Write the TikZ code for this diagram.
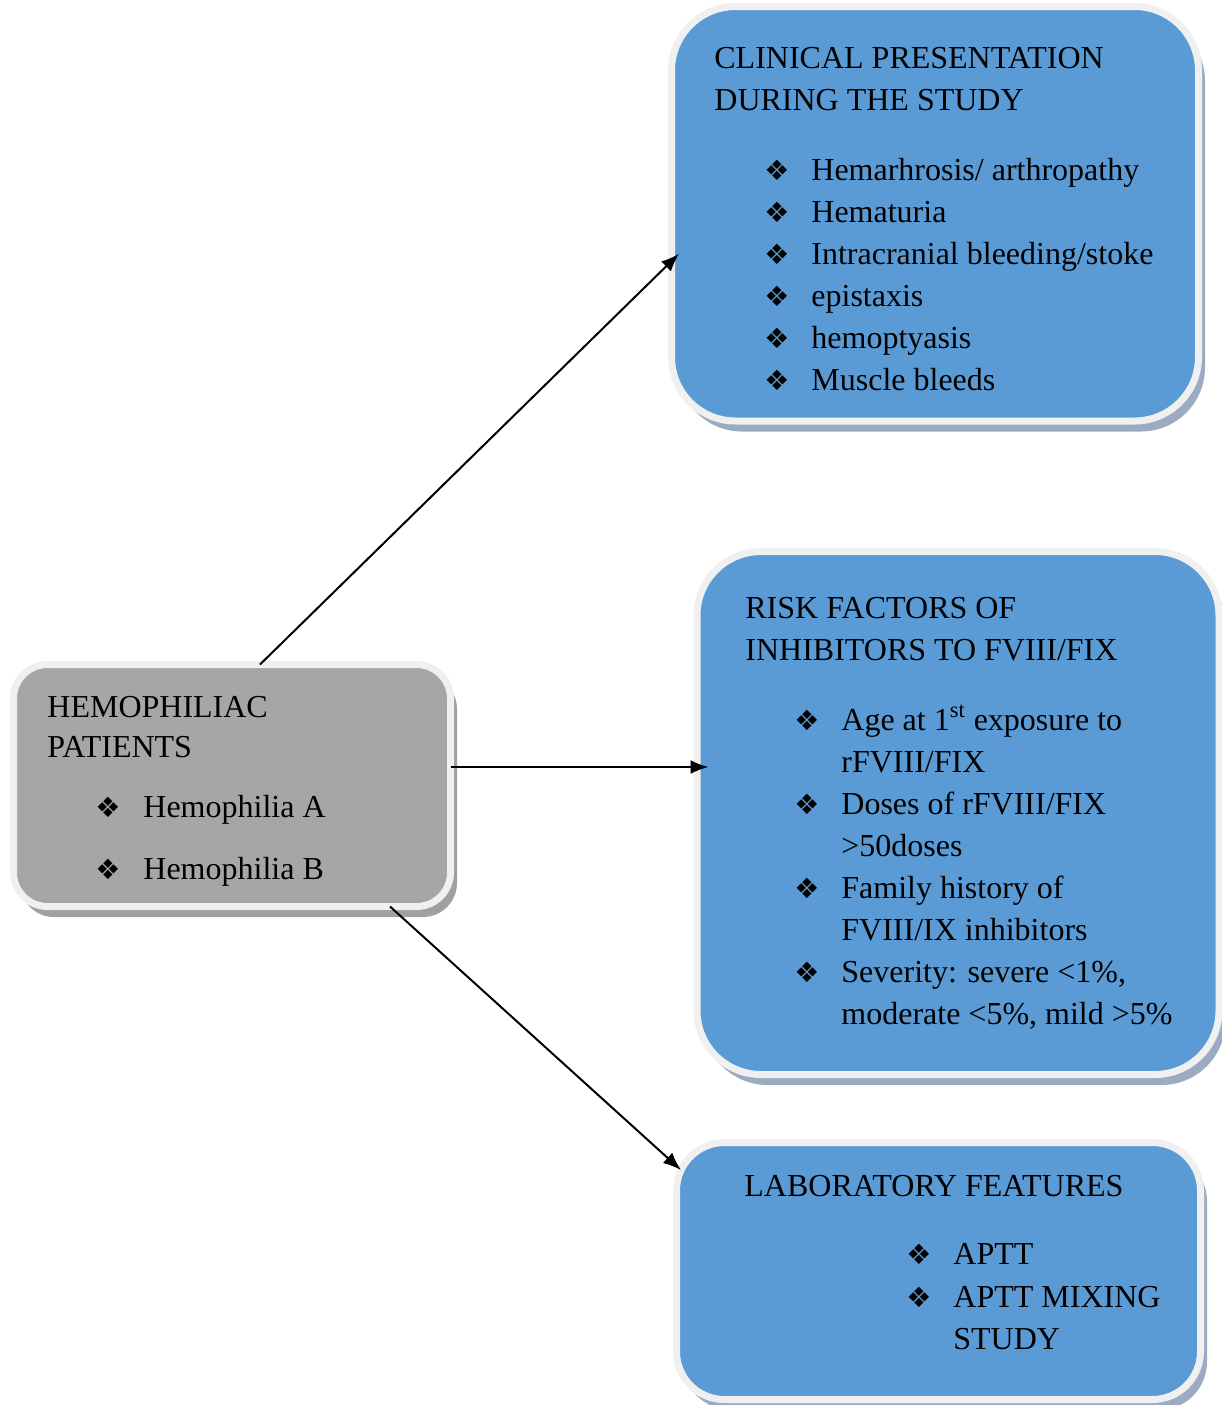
\documentclass[tikz,border=0pt]{standalone}
\usepackage{fontspec}
\setmainfont{Liberation Serif}
\newfontfamily\symfont{DejaVu Sans}
\usetikzlibrary{calc,positioning,shadows,arrows.meta}
\definecolor{boxblue}{RGB}{91,155,213}
\definecolor{boxgrey}{RGB}{166,166,166}
\definecolor{rim}{RGB}{240,240,240}
\definecolor{shade}{RGB}{155,172,194}
\definecolor{greyshade}{RGB}{160,160,160}
\newcommand{\bul}{{\symfont\fontsize{14}{14}\selectfont ❖}}

\begin{document}
\begin{tikzpicture}[x=0.5pt,y=-0.5pt]

\tikzset{box/.style={draw=rim,line width=3.5pt,inner sep=0pt,outer sep=0pt,drop shadow={shadow xshift=3.25pt,shadow yshift=-5.25pt,fill=#1,opacity=1}},
box/.default=shade,
txt/.style={anchor=base west,inner sep=0pt,font=\fontsize{16}{21}\selectfont},
bulnode/.style={anchor=base,inner sep=0pt},
arr/.style={-{Latex[length=9pt,width=7pt]},line width=1pt}}

\useasboundingbox (0,0) rectangle (1222,1405);

% Boxes
\node[box,fill=boxblue,rounded corners=32pt,minimum width=263.5pt,minimum height=207.25pt] (clin) at (935,213.75) {};
\node[box=greyshade,fill=boxgrey,rounded corners=17pt,minimum width=218.5pt,minimum height=121pt] (hemo) at (232,785.5) {};
\node[box,fill=boxblue,rounded corners=32pt,minimum width=261pt,minimum height=261.5pt] (risk) at (958,813) {};
\node[box,fill=boxblue,rounded corners=24pt,minimum width=262pt,minimum height=128.5pt] (lab) at (938.5,1271) {};

% Patients
\node[txt] (hemo1) at (47,717) {HEMOPHILIAC};
\node[txt] (hemo2) at (47,757) {PATIENTS};
\foreach \y/\t [count=\i] in {817/Hemophilia A, 879/Hemophilia B} {
  \node[bulnode] (hb\i) at (108,\y) {\bul};
  \node[txt] (ht\i) at (143,\y) {\t};
}

% Clinical presentation
\node[txt] (clin1) at (714,68) {CLINICAL PRESENTATION};
\node[txt] (clin2) at (714,110) {DURING THE STUDY};
\foreach \t [count=\i] in {Hemarhrosis/ arthropathy, Hematuria, Intracranial bleeding/stoke, epistaxis, hemoptyasis, Muscle bleeds} {
  \node[bulnode] (cb\i) at (777,138+42*\i) {\bul};
  \node[txt] (ct\i) at (811,138+42*\i) {\t};
}

% Risk factors
\node[txt] (risk1) at (745,618) {RISK FACTORS OF};
\node[txt] (risk2) at (745,660) {INHIBITORS TO FVIII/FIX};
\foreach \k in {0,2,4,6} \node[bulnode] (rb\k) at (807,730+42.14*\k) {\bul};
\foreach \t [count=\i from 0] in {{Age at 1\textsuperscript{st} exposure to},{rFVIII/FIX},{Doses of rFVIII/FIX},{>50doses},{Family history of},{FVIII/IX inhibitors},{Severity: severe <1\%,},{moderate <5\%, mild >5\%}}
  \node[txt] (rt\i) at (841,730+42.14*\i) {\t};

% Laboratory
\node[txt] (lab1) at (744,1196) {LABORATORY FEATURES};
\node[bulnode] (lb1) at (919,1264) {\bul};
\node[bulnode] (lb2) at (919,1307) {\bul};
\node[txt] (lt1) at (953,1264) {APTT};
\node[txt] (lt2) at (953,1307) {APTT MIXING};
\node[txt] (lt3) at (953,1349) {STUDY};

% Arrows
\draw[arr] ($(hemo.north)+(28,0)$) -- ($(clin.west)+(7.5,40)$);
\draw[arr] ($(hemo.east)+(0,-18.5)$) -- ($(risk.west)+(11.5,-46)$);
\draw[arr] ($(hemo.south)+(158,0)$) -- ($(lab.west)+(4.5,-101)$);

\end{tikzpicture}
\end{document}
